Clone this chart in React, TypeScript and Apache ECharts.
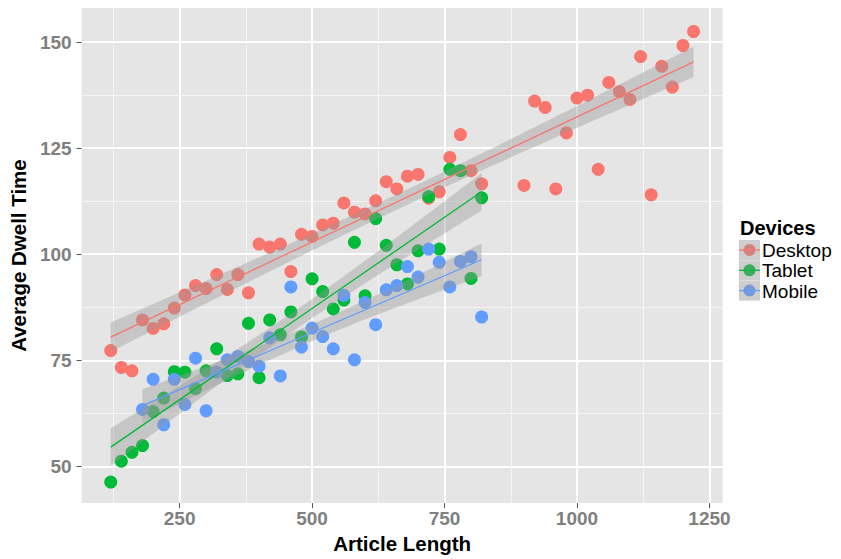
import React, { useEffect, useRef } from "react";
import * as echarts from "echarts";

const desktopX = [120, 140, 160, 180, 200, 220, 240, 260, 280, 300, 320, 340, 360, 380, 400, 420, 440, 460, 480, 500, 520, 540, 560, 580, 600, 620, 640, 660, 680, 700, 720, 740, 760, 780, 800, 820, 900, 920, 940, 960, 980, 1000, 1020, 1040, 1060, 1080, 1100, 1120, 1140, 1160, 1180, 1200, 1220];
const desktopY = [77.3, 73.3, 72.5, 84.5, 82.5, 83.6, 87.3, 90.4, 92.6, 91.9, 95.2, 91.7, 95.2, 90.9, 102.4, 101.7, 102.4, 95.9, 104.7, 104.2, 106.9, 107.3, 112.1, 109.9, 109.5, 112.6, 117.1, 115.4, 118.4, 118.8, 113.2, 114.7, 122.8, 128.2, 119.7, 116.6, 116.2, 136.1, 134.6, 115.4, 128.6, 136.8, 137.5, 120.0, 140.5, 138.3, 136.5, 146.6, 114.0, 144.3, 139.4, 149.2, 152.5];

const tabletX = [120, 140, 160, 180, 200, 220, 240, 260, 280, 300, 320, 340, 360, 380, 400, 420, 440, 460, 480, 500, 520, 540, 560, 580, 600, 620, 640, 660, 680, 700, 720, 740, 760, 780, 800, 820];
const tabletY = [46.3, 51.2, 53.3, 54.9, 62.9, 66.1, 72.3, 72.2, 68.3, 72.5, 77.7, 71.4, 71.8, 83.7, 70.9, 84.5, 81.0, 86.4, 80.5, 94.2, 91.2, 87.1, 89.2, 102.8, 90.2, 108.4, 102.1, 97.5, 93.0, 100.8, 113.6, 101.2, 120.0, 119.7, 94.3, 113.3];

const mobileX = [180, 200, 220, 240, 260, 280, 300, 320, 340, 360, 380, 400, 420, 440, 460, 480, 500, 520, 540, 560, 580, 600, 620, 640, 660, 680, 700, 720, 740, 760, 780, 800, 820];
const mobileY = [63.4, 70.5, 59.8, 70.5, 64.6, 75.5, 63.1, 72.2, 75.1, 75.9, 74.7, 73.6, 80.3, 71.3, 92.3, 78.1, 82.6, 80.6, 77.7, 90.3, 75.1, 88.6, 83.4, 91.6, 92.6, 97.1, 94.6, 101.2, 98.1, 92.3, 98.3, 99.4, 85.2];

const deviceNames = ["Desktop", "Tablet", "Mobile"];
const deviceColors = ["#F8766D", "#00BA38", "#619CFF"];
const deviceXs = [desktopX, tabletX, mobileX];
const deviceYs = [desktopY, tabletY, mobileY];

const xTicks = [250, 500, 750, 1000, 1250];
const yTicks = [50, 75, 100, 125, 150];
const xMinorTicks = [125, 375, 625, 875, 1125];
const yMinorTicks = [62.5, 87.5, 112.5, 137.5];

const FONT = '"Liberation Sans", Arial, Helvetica, sans-serif';

function tQuantile(df: number) {
  const z = 1.959964;
  return z + (z ** 3 + z) / (4 * df) + (5 * z ** 5 + 16 * z ** 3 + 3 * z) / (96 * df * df);
}

function fitLm(xs: number[], ys: number[]) {
  const n = xs.length;
  const mx = xs.reduce((a, b) => a + b, 0) / n;
  const my = ys.reduce((a, b) => a + b, 0) / n;
  let sxx = 0, sxy = 0;
  for (let i = 0; i < n; i++) {
    sxx += (xs[i] - mx) ** 2;
    sxy += (xs[i] - mx) * (ys[i] - my);
  }
  const b = sxy / sxx;
  const a = my - b * mx;
  let sse = 0;
  for (let i = 0; i < n; i++) sse += (ys[i] - (a + b * xs[i])) ** 2;
  const s = Math.sqrt(sse / (n - 2));
  const t = tQuantile(n - 2);
  const fit = (x: number) => a + b * x;
  const half = (x: number) => t * s * Math.sqrt(1 / n + (x - mx) ** 2 / sxx);
  return { fit, half, xmin: Math.min(...xs), xmax: Math.max(...xs) };
}

export default function App() {
  const ref = useRef<HTMLDivElement>(null);
  useEffect(() => {
    if (!ref.current) return;
    const chart = echarts.init(ref.current, null, { renderer: "svg" });
    const series: any[] = [];
    deviceNames.forEach((name, k) => {
      series.push({
        name,
        type: "scatter",
        data: deviceXs[k].map((x, i) => [x, deviceYs[k][i]]),
        symbolSize: 13,
        itemStyle: { color: deviceColors[k], opacity: 1 },
        z: 2,
      });
    });
    deviceNames.forEach((name, k) => {
      const m = fitLm(deviceXs[k], deviceYs[k]);
      series.push({
        name: name + " CI",
        type: "custom",
        z: 3,
        clip: true,
        data: [[m.xmin, m.fit(m.xmin)]],
        encode: { x: 0, y: 1 },
        renderItem: (params: any, api: any) => {
          const N = 80;
          const up: number[][] = [];
          const lo: number[][] = [];
          for (let i = 0; i < N; i++) {
            const x = m.xmin + ((m.xmax - m.xmin) * i) / (N - 1);
            const f = m.fit(x);
            const h = m.half(x);
            up.push(api.coord([x, f + h]));
            lo.push(api.coord([x, f - h]));
          }
          return {
            type: "polygon",
            shape: { points: up.concat(lo.reverse()) },
            style: { fill: "rgba(153,153,153,0.4)", stroke: "none" },
          };
        },
      });
      series.push({
        name: name + " fit",
        type: "line",
        z: 4,
        data: [
          [m.xmin, m.fit(m.xmin)],
          [m.xmax, m.fit(m.xmax)],
        ],
        symbol: "none",
        lineStyle: { color: deviceColors[k], width: 1.3 },
      });
    });

    const tickLabel = {
      color: "#7F7F7F",
      fontWeight: "bold",
      fontSize: 19,
      fontFamily: FONT,
      formatter: (v: number) => String(v),
    };
    const titleStyle = { color: "#000", fontWeight: "bold", fontSize: 20.5, fontFamily: FONT };

    const legendTop = 250;
    const legendStep = 20.3;
    const legendGraphics: any[] = [
      {
        type: "text",
        x: 740,
        y: 227.5,
        style: { text: "Devices", font: `bold 20px ${FONT}`, fill: "#000", textAlign: "left", textVerticalAlign: "middle", align: "left", verticalAlign: "middle" },
        z: 100,
      },
    ];
    deviceNames.forEach((name, k) => {
      const cy = legendTop + k * legendStep;
      legendGraphics.push(
        { type: "rect", shape: { x: 739, y: cy - 10, width: 21, height: 20 }, style: { fill: "#F2F2F2" }, z: 100 },
        { type: "circle", shape: { cx: 749.5, cy, r: 6 }, style: { fill: deviceColors[k] }, z: 101 },
        { type: "rect", shape: { x: 739, y: cy - 10, width: 21, height: 20 }, style: { fill: "rgba(153,153,153,0.4)" }, z: 102 },
        { type: "line", shape: { x1: 739, y1: cy, x2: 760, y2: cy }, style: { stroke: deviceColors[k], lineWidth: 1.3 }, z: 103 },
        {
          type: "text",
          x: 762,
          y: cy + 0.5,
          style: { text: name, font: `19px ${FONT}`, fill: "#000", textAlign: "left", textVerticalAlign: "middle", align: "left", verticalAlign: "middle" },
          z: 103,
        }
      );
    });

    const option: any = {
      animation: false,
      backgroundColor: "#FFFFFF",
      grid: { show: true, backgroundColor: "#E5E5E5", borderWidth: 0, left: 77, top: 8, right: 118.3, bottom: 48.3 },
      xAxis: [
        {
          type: "value",
          min: 65,
          max: 1275,
          position: "bottom",
          axisLine: { show: false },
          axisTick: { show: true, customValues: xTicks, length: 5, lineStyle: { color: "#555", width: 1 } },
          axisLabel: { customValues: xTicks, margin: 6, ...tickLabel },
          splitLine: { show: true, lineStyle: { color: "#FFFFFF", width: 2 } },
          name: "Article Length",
          nameLocation: "middle",
          nameGap: 29,
          nameTextStyle: titleStyle,
        },
        {
          type: "value",
          min: 65,
          max: 1275,
          position: "top",
          axisLine: { show: false },
          axisTick: { show: false, customValues: xMinorTicks },
          axisLabel: { show: false, customValues: xMinorTicks },
          splitLine: { show: true, lineStyle: { color: "#F5F5F5", width: 1 } },
        },
      ],
      yAxis: [
        {
          type: "value",
          min: 41.33,
          max: 158.04,
          position: "left",
          axisLine: { show: false },
          axisTick: { show: true, customValues: yTicks, length: 5, lineStyle: { color: "#555", width: 1 } },
          axisLabel: { customValues: yTicks, margin: 10, ...tickLabel },
          splitLine: { show: true, lineStyle: { color: "#FFFFFF", width: 2 } },
          name: "Average Dwell Time",
          nameLocation: "middle",
          nameRotate: 90,
          nameGap: 44,
          nameTextStyle: titleStyle,
        },
        {
          type: "value",
          min: 41.33,
          max: 158.04,
          position: "right",
          axisLine: { show: false },
          axisTick: { show: false, customValues: yMinorTicks },
          axisLabel: { show: false, customValues: yMinorTicks },
          splitLine: { show: true, lineStyle: { color: "#F5F5F5", width: 1 } },
        },
      ],
      series,
      graphic: legendGraphics,
    };
    chart.setOption(option);
    return () => chart.dispose();
  }, []);
  return <div ref={ref} style={{ position: "fixed", left: 0, top: 0, width: 841, height: 559 }} />;
}
